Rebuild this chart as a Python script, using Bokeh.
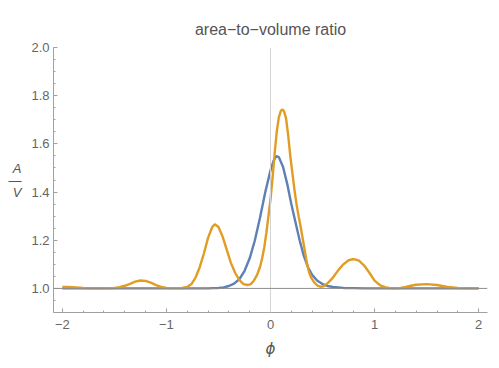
from bokeh.plotting import figure
from bokeh.models import Range1d, FixedTicker, Span
from bokeh.embed import file_html
from bokeh.resources import INLINE

# blue curve samples (phi, A/V)
blue_x = [-2.0, -1.5, -1.0, -0.8, -0.7, -0.6, -0.55, -0.5, -0.45, -0.40, -0.35, -0.30, -0.25,
          -0.20, -0.15, -0.10, -0.05, 0.0, 0.03, 0.055, 0.08, 0.12, 0.16, 0.20, 0.24, 0.28,
          0.32, 0.36, 0.40, 0.45, 0.50, 0.55, 0.60, 0.70, 0.80, 0.90, 1.0, 1.5, 2.0]
blue_y = [1.0, 1.0, 1.0, 1.0, 1.0, 1.0, 1.001, 1.002, 1.004, 1.010, 1.020, 1.038, 1.072,
          1.125, 1.200, 1.295, 1.400, 1.490, 1.530, 1.549, 1.545, 1.505, 1.435, 1.350, 1.275,
          1.200, 1.135, 1.088, 1.056, 1.032, 1.018, 1.010, 1.006, 1.002, 1.001, 1.0, 1.0, 1.0, 1.0]

# orange curve samples (phi, A/V)
orange_x = [-2.0, -1.95, -1.9, -1.8, -1.7, -1.6, -1.5, -1.45, -1.4, -1.35, -1.3, -1.25, -1.2,
            -1.15, -1.1, -1.05, -1.0, -0.95, -0.9, -0.85, -0.80, -0.76, -0.72, -0.68, -0.64,
            -0.60, -0.56, -0.536, -0.50, -0.46, -0.42, -0.38, -0.34, -0.30, -0.26, -0.22,
            -0.19, -0.16, -0.13, -0.10, -0.08, -0.06, -0.04, -0.02, 0.0, 0.02, 0.04, 0.06,
            0.08, 0.10, 0.115, 0.13, 0.15, 0.17, 0.19, 0.21, 0.23, 0.25, 0.27, 0.29, 0.31,
            0.33, 0.35, 0.37, 0.39, 0.42, 0.45, 0.48, 0.51, 0.55, 0.60, 0.65, 0.70, 0.75,
            0.80, 0.85, 0.90, 0.95, 1.00, 1.05, 1.10, 1.15, 1.2, 1.25, 1.3, 1.35, 1.4, 1.5,
            1.6, 1.7, 1.8, 1.9, 2.0]
orange_y = [1.006, 1.006, 1.005, 1.002, 1.000, 1.000, 1.002, 1.005, 1.011, 1.019, 1.028, 1.033,
            1.031, 1.024, 1.014, 1.006, 1.002, 1.001, 1.001, 1.002, 1.006, 1.018, 1.045, 1.088,
            1.145, 1.210, 1.255, 1.266, 1.255, 1.215, 1.160, 1.105, 1.065, 1.035, 1.018, 1.014,
            1.018, 1.032, 1.055, 1.090, 1.125, 1.170, 1.230, 1.300, 1.369, 1.460, 1.560, 1.650,
            1.710, 1.738, 1.743, 1.735, 1.705, 1.635, 1.550, 1.480, 1.410, 1.350, 1.300, 1.255,
            1.205, 1.155, 1.105, 1.068, 1.045, 1.025, 1.012, 1.007, 1.009, 1.022, 1.045, 1.075,
            1.100, 1.117, 1.122, 1.115, 1.095, 1.065, 1.032, 1.014, 1.005, 1.001, 1.000, 1.002,
            1.006, 1.011, 1.015, 1.018, 1.014, 1.006, 1.002, 1.000, 1.000]

x_ticks = [-2, -1, 0, 1, 2]
x_tick_labels = ["\u22122", "\u22121", "0", "1", "2"]
y_ticks = [1.0, 1.2, 1.4, 1.6, 1.8, 2.0]
y_tick_labels = ["1.0", "1.2", "1.4", "1.6", "1.8", "2.0"]

title_text = "area\u2212to\u2212volume ratio"
x_label = "\u03d5"
y_label = "A\n\u2014\nV"

BLUE = "#5E81B5"
ORANGE = "#E19C24"
AXIS = "#a0a0a0"
LABEL = "#666666"
FONT = "Liberation Sans"

p = figure(width=491, height=360, x_range=Range1d(-2.085, 2.085), y_range=Range1d(0.9, 2.0),
           output_backend="svg", toolbar_location=None,
           min_border_left=53, min_border_top=47, min_border_right=4, min_border_bottom=45)
p.outline_line_color = None
p.xgrid.visible = False
p.ygrid.visible = False

p.title.text = title_text
p.title.align = "center"
p.title.text_font = FONT
p.title.text_font_size = "16px"
p.title.text_font_style = "normal"
p.title.text_color = "#555555"
p.title.standoff = 20

x_minor = [round(-2 + 0.2 * i, 2) for i in range(21)]
y_minor = [round(0.9 + 0.05 * i, 2) for i in range(23)]
p.xaxis.ticker = FixedTicker(ticks=x_ticks, minor_ticks=x_minor)
p.yaxis.ticker = FixedTicker(ticks=y_ticks, minor_ticks=y_minor)
p.xaxis.major_label_overrides = {t: l for t, l in zip(x_ticks, x_tick_labels)}
p.yaxis.major_label_overrides = {t: l for t, l in zip(y_ticks, y_tick_labels)}

for ax in (p.xaxis[0], p.yaxis[0]):
    ax.axis_line_color = AXIS
    ax.axis_line_width = 1
    ax.major_tick_line_color = AXIS
    ax.minor_tick_line_color = AXIS
    ax.major_tick_in = 4
    ax.major_tick_out = 0
    ax.minor_tick_in = 2
    ax.minor_tick_out = 0
    ax.major_label_text_color = LABEL
    ax.major_label_text_font = FONT
    ax.major_label_text_font_size = "13px"
    ax.axis_label_text_color = "#555555"
    ax.axis_label_text_font_style = "italic"
p.yaxis.major_label_standoff = 4
p.xaxis.major_label_standoff = 7

p.xaxis.axis_label = x_label
p.xaxis.axis_label_text_font = "DejaVu Sans"
p.xaxis.axis_label_text_font_size = "15px"
p.xaxis.axis_label_standoff = 8

p.yaxis.axis_label = y_label
p.yaxis.axis_label_text_font = FONT
p.yaxis.axis_label_text_font_size = "13px"
p.yaxis.axis_label_text_line_height = 0.8
p.yaxis.axis_label_orientation = "horizontal"
p.yaxis.axis_label_standoff = 7

p.add_layout(Span(location=0, dimension="height", line_color="#d4d4d4", line_width=1))
p.add_layout(Span(location=1, dimension="width", line_color="#8c8c8c", line_width=1))

p.line(blue_x, blue_y, line_color=BLUE, line_width=2.4)
p.line(orange_x, orange_y, line_color=ORANGE, line_width=2.4)

open("out.html", "w").write(file_html(p, INLINE))
